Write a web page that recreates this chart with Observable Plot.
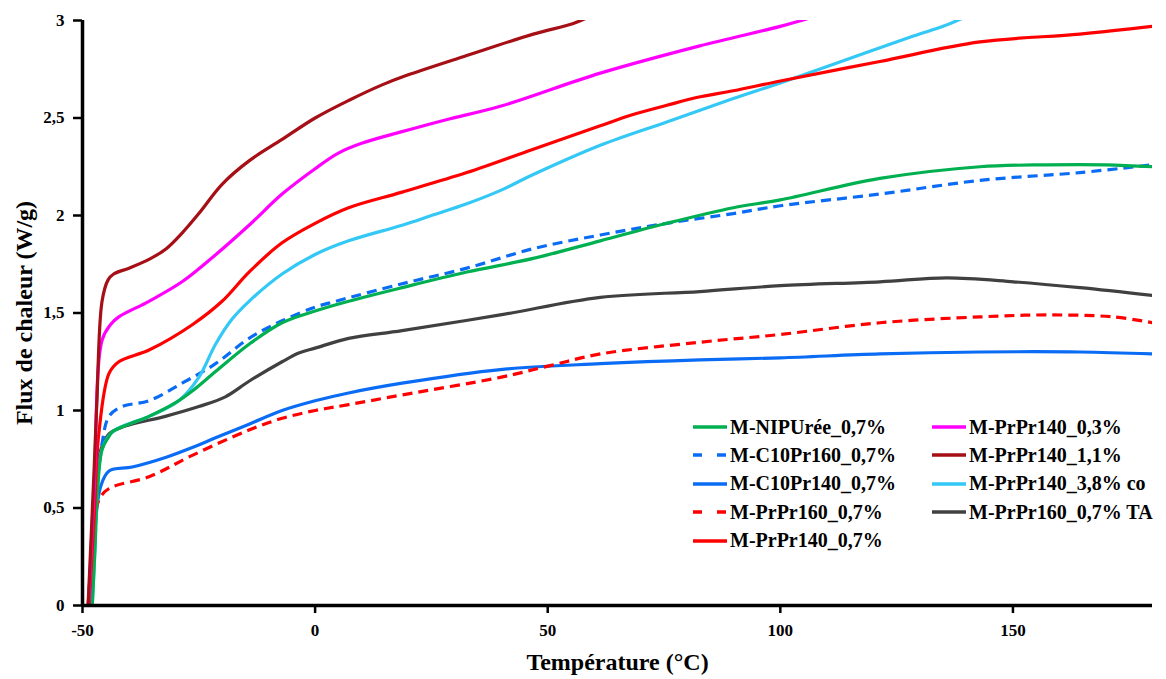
<!DOCTYPE html>
<html>
<head>
<meta charset="utf-8">
<script src="https://cdn.jsdelivr.net/npm/d3@7"></script>
<script src="https://cdn.jsdelivr.net/npm/@observablehq/plot@0.6"></script>
<style>
  html, body { margin: 0; padding: 0; background: #fff; }
  #wrap { position: relative; width: 1166px; height: 679px; font-family: "Liberation Serif", "Tinos", "Times New Roman", "DejaVu Serif", serif; }
  #wrap svg text { font-family: "Liberation Serif", "Tinos", "Times New Roman", "DejaVu Serif", serif; }
  #legend { position: absolute; left: 693px; top: 413px; font-weight: bold; font-size: 20px; color: #000; }
  .item { position: absolute; display: flex; align-items: center; white-space: nowrap; height: 28px; }
  .item svg { margin-right: 3px; }
</style>
</head>
<body>
<div id="wrap"></div>
<script>
// ---- Data (Température °C, Flux de chaleur W/g) ----
const xTicks = [-50, 0, 50, 100, 150];
const yTicks = [0, 0.5, 1, 1.5, 2, 2.5, 3];

const names = [
  "M-NIPUrée_0,7%", "M-C10Pr160_0,7%", "M-C10Pr140_0,7%", "M-PrPr160_0,7%",
  "M-PrPr140_0,7%", "M-PrPr140_0,3%", "M-PrPr140_1,1%", "M-PrPr140_3,8% co", "M-PrPr160_0,7% TA"
];
const colors = ["#00B050", "#0A6CF5", "#0A6CF5", "#FF0000", "#FF0000", "#FF00FF", "#A50F15", "#33C8F5", "#404040"];
const dashed = [false, true, false, true, false, false, false, false, false];

const T_nipuree = [-47.9, -47.3, -46.9, -45.8, -44.5, -43.6, -40, -35.7, -30, -26.4, -21.4, -14.2, -7.1, 0, 7.2, 18.7, 32.6, 46.9, 61.3, 75.6, 89.9, 100, 121.4, 142.9, 157.2, 170, 180];
const V_nipuree = [0, 0.3, 0.54, 0.80, 0.86, 0.89, 0.93, 0.97, 1.04, 1.10, 1.20, 1.34, 1.45, 1.51, 1.56, 1.63, 1.71, 1.78, 1.87, 1.96, 2.04, 2.08, 2.19, 2.25, 2.26, 2.26, 2.25];

const T_c10pr160 = [-48.2, -47.2, -45.8, -44.3, -41.5, -35.7, -28.6, -21.4, -14.2, -7.1, 0, 4.4, 18.7, 32.6, 46.9, 61.3, 75.6, 89.9, 100, 121.4, 142.9, 164.4, 180];
const V_c10pr160 = [0, 0.54, 0.83, 0.97, 1.02, 1.05, 1.14, 1.24, 1.37, 1.46, 1.53, 1.56, 1.65, 1.73, 1.83, 1.90, 1.96, 2.01, 2.05, 2.11, 2.18, 2.22, 2.26];

const T_c10pr140 = [-48.3, -47.3, -46.1, -44.3, -39.3, -32, -26.4, -21.4, -14.2, -7.1, 0, 7.2, 18.7, 39.8, 61.3, 82.7, 100, 121.4, 142.9, 164.4, 180];
const V_c10pr140 = [0, 0.4, 0.61, 0.69, 0.71, 0.76, 0.81, 0.86, 0.93, 1.00, 1.05, 1.09, 1.14, 1.21, 1.24, 1.26, 1.27, 1.29, 1.30, 1.30, 1.29];

const T_prpr160 = [-48.8, -47.5, -46.5, -44.3, -35.7, -26.4, -14.2, -7.1, 0, 7.2, 18.7, 39.8, 50.5, 61.3, 82.7, 100, 121.4, 142.9, 157.2, 171.6, 180];
const V_prpr160 = [0, 0.4, 0.54, 0.60, 0.66, 0.77, 0.90, 0.96, 1.00, 1.03, 1.08, 1.17, 1.23, 1.29, 1.35, 1.39, 1.45, 1.48, 1.49, 1.48, 1.45];

const T_prpr140_07 = [-48.6, -47.5, -46.5, -44.3, -42.2, -35.7, -26.4, -20, -14.2, -7.1, 0, 7.2, 18.7, 32.6, 46.9, 61.3, 68, 75.6, 82, 89.9, 100, 121.4, 142.9, 164.4, 180];
const V_prpr140_07 = [0, 0.45, 0.88, 1.19, 1.25, 1.31, 1.44, 1.56, 1.71, 1.86, 1.96, 2.04, 2.12, 2.22, 2.34, 2.46, 2.515, 2.565, 2.605, 2.64, 2.69, 2.79, 2.89, 2.93, 2.97];

const T_prpr140_03 = [-48.7, -47.5, -45.8, -44, -42.2, -35.7, -28.6, -22.8, -14.2, -7.1, 0, 5, 10, 18.7, 28, 39.8, 61.3, 82.7, 100, 106];
const V_prpr140_03 = [0, 0.6, 1.36, 1.44, 1.48, 1.56, 1.66, 1.77, 1.95, 2.11, 2.24, 2.32, 2.37, 2.43, 2.49, 2.56, 2.73, 2.87, 2.97, 3.01];

const T_prpr140_11 = [-48.8, -47.5, -46.9, -45.8, -44.5, -43.3, -40, -35.7, -32, -28.6, -25, -20, -14.2, -7.1, 0, 7.2, 14.4, 18.7, 32.6, 46.9, 55.5, 59];
const V_prpr140_11 = [0, 0.7, 1.05, 1.56, 1.67, 1.70, 1.73, 1.775, 1.83, 1.91, 2.01, 2.16, 2.28, 2.39, 2.50, 2.59, 2.67, 2.71, 2.82, 2.93, 2.985, 3.02];

const T_prpr140_38 = [-47.9, -47.3, -46.9, -45.8, -43.6, -35.7, -29.3, -25, -21.4, -17.8, -14.2, -7.1, 0, 7.2, 18.7, 25, 32.6, 40, 46.9, 61.3, 75.6, 89.9, 100, 114.3, 128.6, 135, 139];
const V_prpr140_38 = [0, 0.3, 0.54, 0.80, 0.89, 0.97, 1.05, 1.17, 1.34, 1.47, 1.56, 1.70, 1.80, 1.87, 1.95, 2.00, 2.06, 2.13, 2.21, 2.36, 2.48, 2.60, 2.68, 2.80, 2.92, 2.97, 3.01];

const T_prpr160_ta = [-48, -47.3, -46.5, -44.3, -40.8, -32.2, -25, -19.3, -14.2, -7.1, -3.5, 0, 7.2, 18.7, 39.8, 61.3, 82.7, 100, 121.4, 135.8, 150.1, 164.4, 180];
const V_prpr160_ta = [0, 0.4, 0.76, 0.88, 0.92, 0.97, 1.02, 1.07, 1.15, 1.25, 1.295, 1.32, 1.37, 1.41, 1.49, 1.58, 1.61, 1.64, 1.66, 1.68, 1.66, 1.63, 1.59];

const seriesT = [T_nipuree, T_c10pr160, T_c10pr140, T_prpr160, T_prpr140_07, T_prpr140_03, T_prpr140_11, T_prpr140_38, T_prpr160_ta];
const seriesV = [V_nipuree, V_c10pr160, V_c10pr140, V_prpr160, V_prpr140_07, V_prpr140_03, V_prpr140_11, V_prpr140_38, V_prpr160_ta];

// draw order (later on top)
const drawOrder = [8, 2, 3, 1, 7, 0, 4, 5, 6];

const rows = names.map((n, i) => seriesT[i].map((t, k) => ({ serie: n, t, v: seriesV[i][k] })));

const fmt = d => String(d).replace(".", ",");
const F = "'Liberation Serif', 'Tinos', 'Times New Roman', 'DejaVu Serif', serif";

const lineMarks = drawOrder.map(i => Plot.line(rows[i], {
  x: "t", y: "v", stroke: colors[i], strokeWidth: 3.2, curve: "catmull-rom", clip: true,
  strokeDasharray: dashed[i] ? "10,6" : null, strokeLinecap: "butt"
}));

const chart = Plot.plot({
  width: 1166, height: 679,
  marginLeft: 82, marginRight: 14, marginTop: 20, marginBottom: 74,
  style: { fontFamily: F, background: "#fff", color: "#000" },
  x: { domain: [-50, 180] },
  y: { domain: [0, 3] },
  marks: [
    ...lineMarks,
    Plot.ruleY([0], { stroke: "#000", strokeWidth: 3.5 }),
    Plot.ruleX([-50], { stroke: "#000", strokeWidth: 3.5 }),
    Plot.axisX({ ticks: xTicks, tickSize: 8, tickPadding: 10, tickFormat: fmt, fontSize: 17, fontWeight: "bold", strokeWidth: 2.5, label: null }),
    Plot.axisY({ ticks: yTicks, tickSize: 9, tickPadding: 9, tickFormat: fmt, fontSize: 17, fontWeight: "bold", strokeWidth: 2.5, label: null }),
    Plot.text(["Température (°C)"], { frameAnchor: "bottom", dy: 57, lineAnchor: "middle", textAnchor: "middle", fontSize: 24, fontWeight: "bold", fill: "#000" }),
    Plot.text(["Flux de chaleur (W/g)"], { frameAnchor: "left", dx: -58, rotate: -90, lineAnchor: "middle", textAnchor: "middle", fontSize: 24, fontWeight: "bold", fill: "#000" })
  ]
});

const wrap = document.getElementById("wrap");
wrap.appendChild(chart);

// ---- Legend (inside plot area, two columns) ----
const legendCols = [[0, 1, 2, 3, 4], [5, 6, 7, 8]];
const legend = d3.select(wrap).append("div").attr("id", "legend");
legendCols.forEach((col, c) => {
  col.forEach((i, r) => {
    const it = legend.append("div").attr("class", "item")
      .style("left", (c * 239) + "px").style("top", (r * 28.4) + "px");
    const s = it.append("svg").attr("width", 34).attr("height", 10);
    s.append("line").attr("x1", 0).attr("x2", 34).attr("y1", 5).attr("y2", 5)
      .attr("stroke", colors[i]).attr("stroke-width", 3.5)
      .attr("stroke-dasharray", dashed[i] ? "9,15" : null);
    it.append("span").text(names[i]);
  });
});
</script>
</body>
</html>
